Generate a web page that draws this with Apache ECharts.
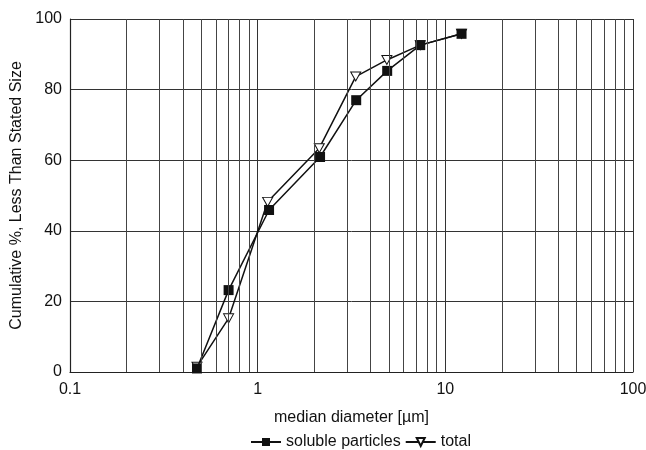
<!DOCTYPE html>
<html>
<head>
<meta charset="utf-8">
<script src="https://cdn.jsdelivr.net/npm/echarts@6/dist/echarts.min.js"></script>
<style>
  html, body { margin: 0; padding: 0; background: #fff; }
  #chart { width: 646px; height: 450px; }
</style>
</head>
<body>
<div id="chart"></div>
<script>
// median diameter [um] and cumulative %
var solubleX = [0.475, 0.70, 1.15, 2.15, 3.35, 4.9, 7.35, 12.2];
var solubleY = [1, 23.2, 45.9, 60.9, 77.0, 85.3, 92.6, 95.8];
var totalX = [0.475, 0.70, 1.13, 2.13, 3.33, 4.88, 7.35, 12.2];
var totalY = [1.5, 15.2, 48.2, 63.4, 83.7, 88.4, 92.6, 95.8];
var minorGrid = [0.2, 0.3, 0.4, 0.5, 0.6, 0.7, 0.8, 0.9,
                 2, 3, 4, 5, 6, 7, 8, 9,
                 20, 30, 40, 50, 60, 70, 80, 90];

function pairs(xs, ys) {
  return xs.map(function (x, i) { return [x, ys[i]]; });
}

var chart = echarts.init(document.getElementById('chart'));
var font = 'Liberation Sans, Arial, sans-serif';
var option = {
  animation: false,
  backgroundColor: '#fff',
  textStyle: { fontFamily: font },
  grid: { left: 70, right: 13, top: 19, bottom: 78, outerBoundsMode: 'none', containLabel: false },
  legend: {
    top: 429,
    left: 245,
    itemWidth: 30,
    itemHeight: 10,
    itemGap: 4,
    textStyle: { fontSize: 16, color: '#111', fontFamily: font },
    data: ['soluble particles', 'total']
  },
  xAxis: {
    type: 'log',
    logBase: 10,
    min: 0.1,
    max: 100,
    name: 'median diameter [\u00b5m]',
    nameLocation: 'middle',
    nameGap: 38,
    nameTextStyle: { fontSize: 16, color: '#111' },
    axisLine: { lineStyle: { color: '#222', width: 1.2 } },
    axisTick: { show: false },
    axisLabel: { fontSize: 16, color: '#111', margin: 10 },
    splitLine: { show: true, lineStyle: { color: '#333', width: 1 } }
  },
  yAxis: {
    type: 'value',
    min: 0,
    max: 100,
    interval: 20,
    name: 'Cumulative %, Less Than Stated Size',
    nameLocation: 'middle',
    nameGap: 43,
    nameTextStyle: { fontSize: 16, color: '#111' },
    axisLine: { show: true, lineStyle: { color: '#222', width: 1.2 } },
    axisTick: { show: false },
    axisLabel: { fontSize: 16, color: '#111', margin: 8 },
    splitLine: { show: true, lineStyle: { color: '#333', width: 1 } }
  },
  series: [{
    name: 'total',
    type: 'line',
    data: pairs(totalX, totalY),
    symbol: 'path://M0,0 L10,0 L5,9 Z',
    symbolSize: [10, 9],
    lineStyle: { color: '#111', width: 1.5 },
    itemStyle: { color: '#fff', borderColor: '#111', borderWidth: 1 },
    z: 3,
    markLine: {
      silent: true,
      symbol: 'none',
      label: { show: false },
      lineStyle: { color: '#444', width: 1, type: 'solid' },
      data: minorGrid.map(function (v) { return { xAxis: v }; })
    }
  }, {
    name: 'soluble particles',
    type: 'line',
    data: pairs(solubleX, solubleY),
    symbol: 'rect',
    symbolSize: 10,
    lineStyle: { color: '#111', width: 1.5 },
    itemStyle: { color: '#111' },
    z: 4
  }]
};
chart.setOption(option);
</script>
</body>
</html>
